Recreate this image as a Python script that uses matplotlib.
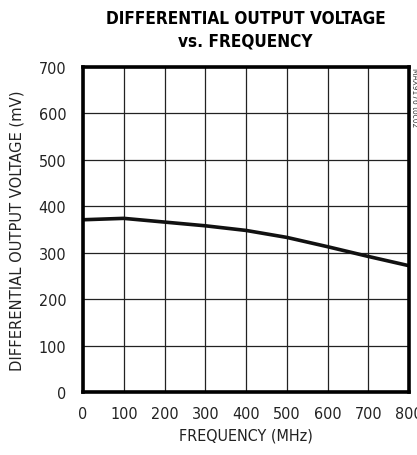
import matplotlib.pyplot as plt

# Data
freq_mhz = [0, 100, 200, 300, 400, 500, 600, 700, 800]
vout_mv = [371, 374, 366, 358, 348, 333, 313, 292, 272]

x_ticks = [0, 100, 200, 300, 400, 500, 600, 700, 800]
y_ticks = [0, 100, 200, 300, 400, 500, 600, 700]

plt.rcParams['font.family'] = ['DejaVu Sans']
plt.rcParams['font.stretch'] = 'condensed'

fig = plt.figure(figsize=(4.17, 4.56), dpi=100)
ax = fig.add_axes([83 / 417, 1 - 393 / 456, 326 / 417, 325 / 456])

ax.plot(freq_mhz, vout_mv, color='#111111', linewidth=2.6, solid_capstyle='butt')

ax.set_xlim(0, 800)
ax.set_ylim(0, 700)
ax.set_xticks(x_ticks)
ax.set_yticks(y_ticks)
ax.tick_params(length=0, labelsize=11.5, pad=12, colors='#222222')
ax.tick_params(axis='x', pad=10)
ax.grid(True, color='#222222', linewidth=0.9)
for s in ax.spines.values():
    s.set_linewidth(2.6)
    s.set_color('black')

ax.set_xlabel('FREQUENCY (MHz)', fontsize=11.5, labelpad=5, color='#222222')
ax.set_ylabel('DIFFERENTIAL OUTPUT VOLTAGE (mV)', fontsize=11.8, labelpad=10, color='#222222')

fig.text(0.589, 0.978, 'DIFFERENTIAL OUTPUT VOLTAGE\nvs. FREQUENCY', ha='center', va='top',
         fontsize=12.3, fontweight='bold', linespacing=1.3)
fig.text(414 / 417, 1 - 68 / 456, 'MAX9176 toc02', rotation=-90, ha='center', va='top',
         fontsize=6, color='#444444')

fig.savefig('out.png', dpi=100)
